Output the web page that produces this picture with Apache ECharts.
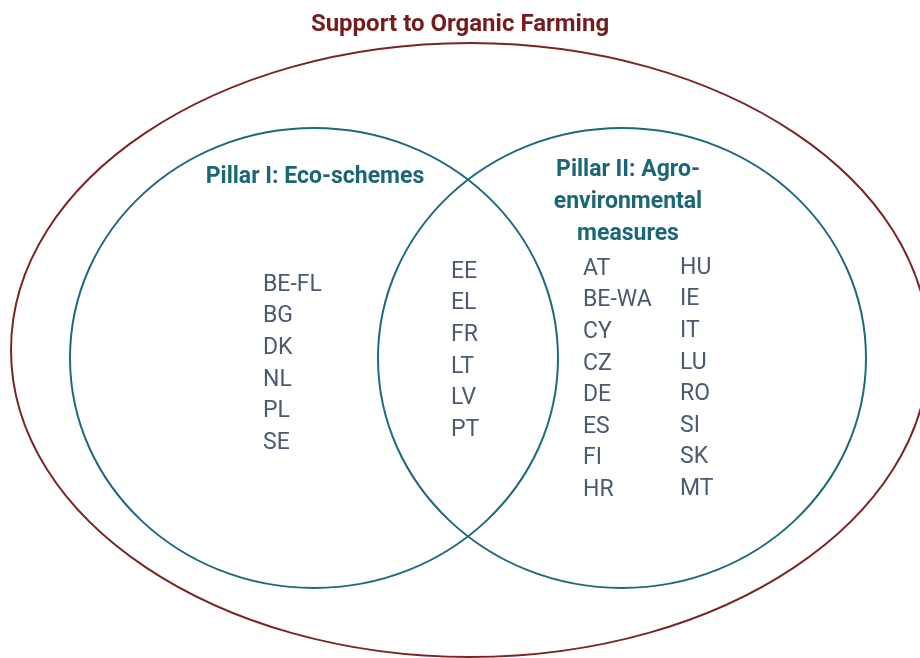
<!DOCTYPE html>
<html>
<head>
<meta charset="utf-8">
<script src="https://cdn.jsdelivr.net/npm/echarts@6/dist/echarts.min.js"></script>
<style>
	html, body { margin: 0; padding: 0; background: #fff; }
	#venn { width: 920px; height: 658px; }
</style>
</head>
<body>
<div id="venn"></div>
<script>
// 集合 / 成员
var setNames = ['Support to Organic Farming', 'Pillar I: Eco-schemes', 'Pillar II: Agro-\nenvironmental\nmeasures'];
var ecoOnly = ['BE-FL', 'BG', 'DK', 'NL', 'PL', 'SE'];
var bothPillars = ['EE', 'EL', 'FR', 'LT', 'LV', 'PT'];
var agroOnlyA = ['AT', 'BE-WA', 'CY', 'CZ', 'DE', 'ES', 'FI', 'HR'];
var agroOnlyB = ['HU', 'IE', 'IT', 'LU', 'RO', 'SI', 'SK', 'MT'];

$ready();

function $ready(){
	var myCharts = echarts.init(document.getElementById('venn'));

	// layout (pixel space of the hidden axes)
	var shapes = [
		{cx: 470, cy: 350, rx: 459, ry: 307, color: '#7b2424'},
		{cx: 314, cy: 358, rx: 244, ry: 230, color: '#1d6b7d'},
		{cx: 622, cy: 358, rx: 244, ry: 230, color: '#1d6b7d'}
	];
	var rowGap = 31.6;
	var groups = [
		{items: ecoOnly, x: 263, y: 285},
		{items: bothPillars, x: 451, y: 272},
		{items: agroOnlyA, x: 583, y: 269},
		{items: agroOnlyB, x: 680, y: 268}
	];

	var points = [];
	groups.forEach(function(g){
		g.items.forEach(function(name, i){
			points.push({name: name, value: [g.x, g.y + i * rowGap]});
		});
	});

	var option = {
		backgroundColor: '#fff',
		animation: false,
		title: {
			text: setNames[0],
			left: 'center',
			top: 8,
			textStyle: {
				fontFamily: 'Roboto',
				fontWeight: 'bold',
				fontSize: 24,
				color: '#771c1c'
			}
		},
		grid: {left: 0, right: 0, top: 0, bottom: 0},
		xAxis: {type: 'value', min: 0, max: 920, show: false},
		yAxis: {type: 'value', min: 0, max: 658, inverse: true, show: false},
		series: [
			{
				type: 'custom',
				data: shapes.map(function(s){ return [s.cx, s.cy, s.rx, s.ry]; }),
				renderItem: function(params, api){
					var s = shapes[params.dataIndex];
					var c = api.coord([s.cx, s.cy]);
					var sz = api.size([s.rx, s.ry]);
					return {
						type: 'ellipse',
						shape: {cx: c[0], cy: c[1], rx: sz[0], ry: sz[1]},
						style: {fill: 'none', stroke: s.color, lineWidth: 2}
					};
				},
				silent: true
			},
			{
				type: 'scatter',
				symbolSize: 0,
				itemStyle: {opacity: 1},
				data: [
					{name: setNames[1], value: [315, 177]},
					{name: setNames[2], value: [628, 202]}
				],
				label: {
					show: true,
					position: 'inside',
					formatter: '{b}',
					fontFamily: 'Roboto',
					fontWeight: 'bold',
					fontSize: 23,
					lineHeight: 32,
					color: '#1b6677',
					textBorderWidth: 0,
					textBorderColor: 'transparent',
					align: 'center'
				},
				silent: true
			},
			{
				type: 'scatter',
				symbolSize: 0,
				itemStyle: {opacity: 1},
				data: points,
				label: {
					show: true,
					position: 'right',
					distance: 0,
					formatter: '{b}',
					fontFamily: 'Roboto',
					fontSize: 23,
					color: '#4a5a70'
				},
				silent: true
			}
		]
	};
	myCharts.setOption(option);
}
</script>
</body>
</html>
